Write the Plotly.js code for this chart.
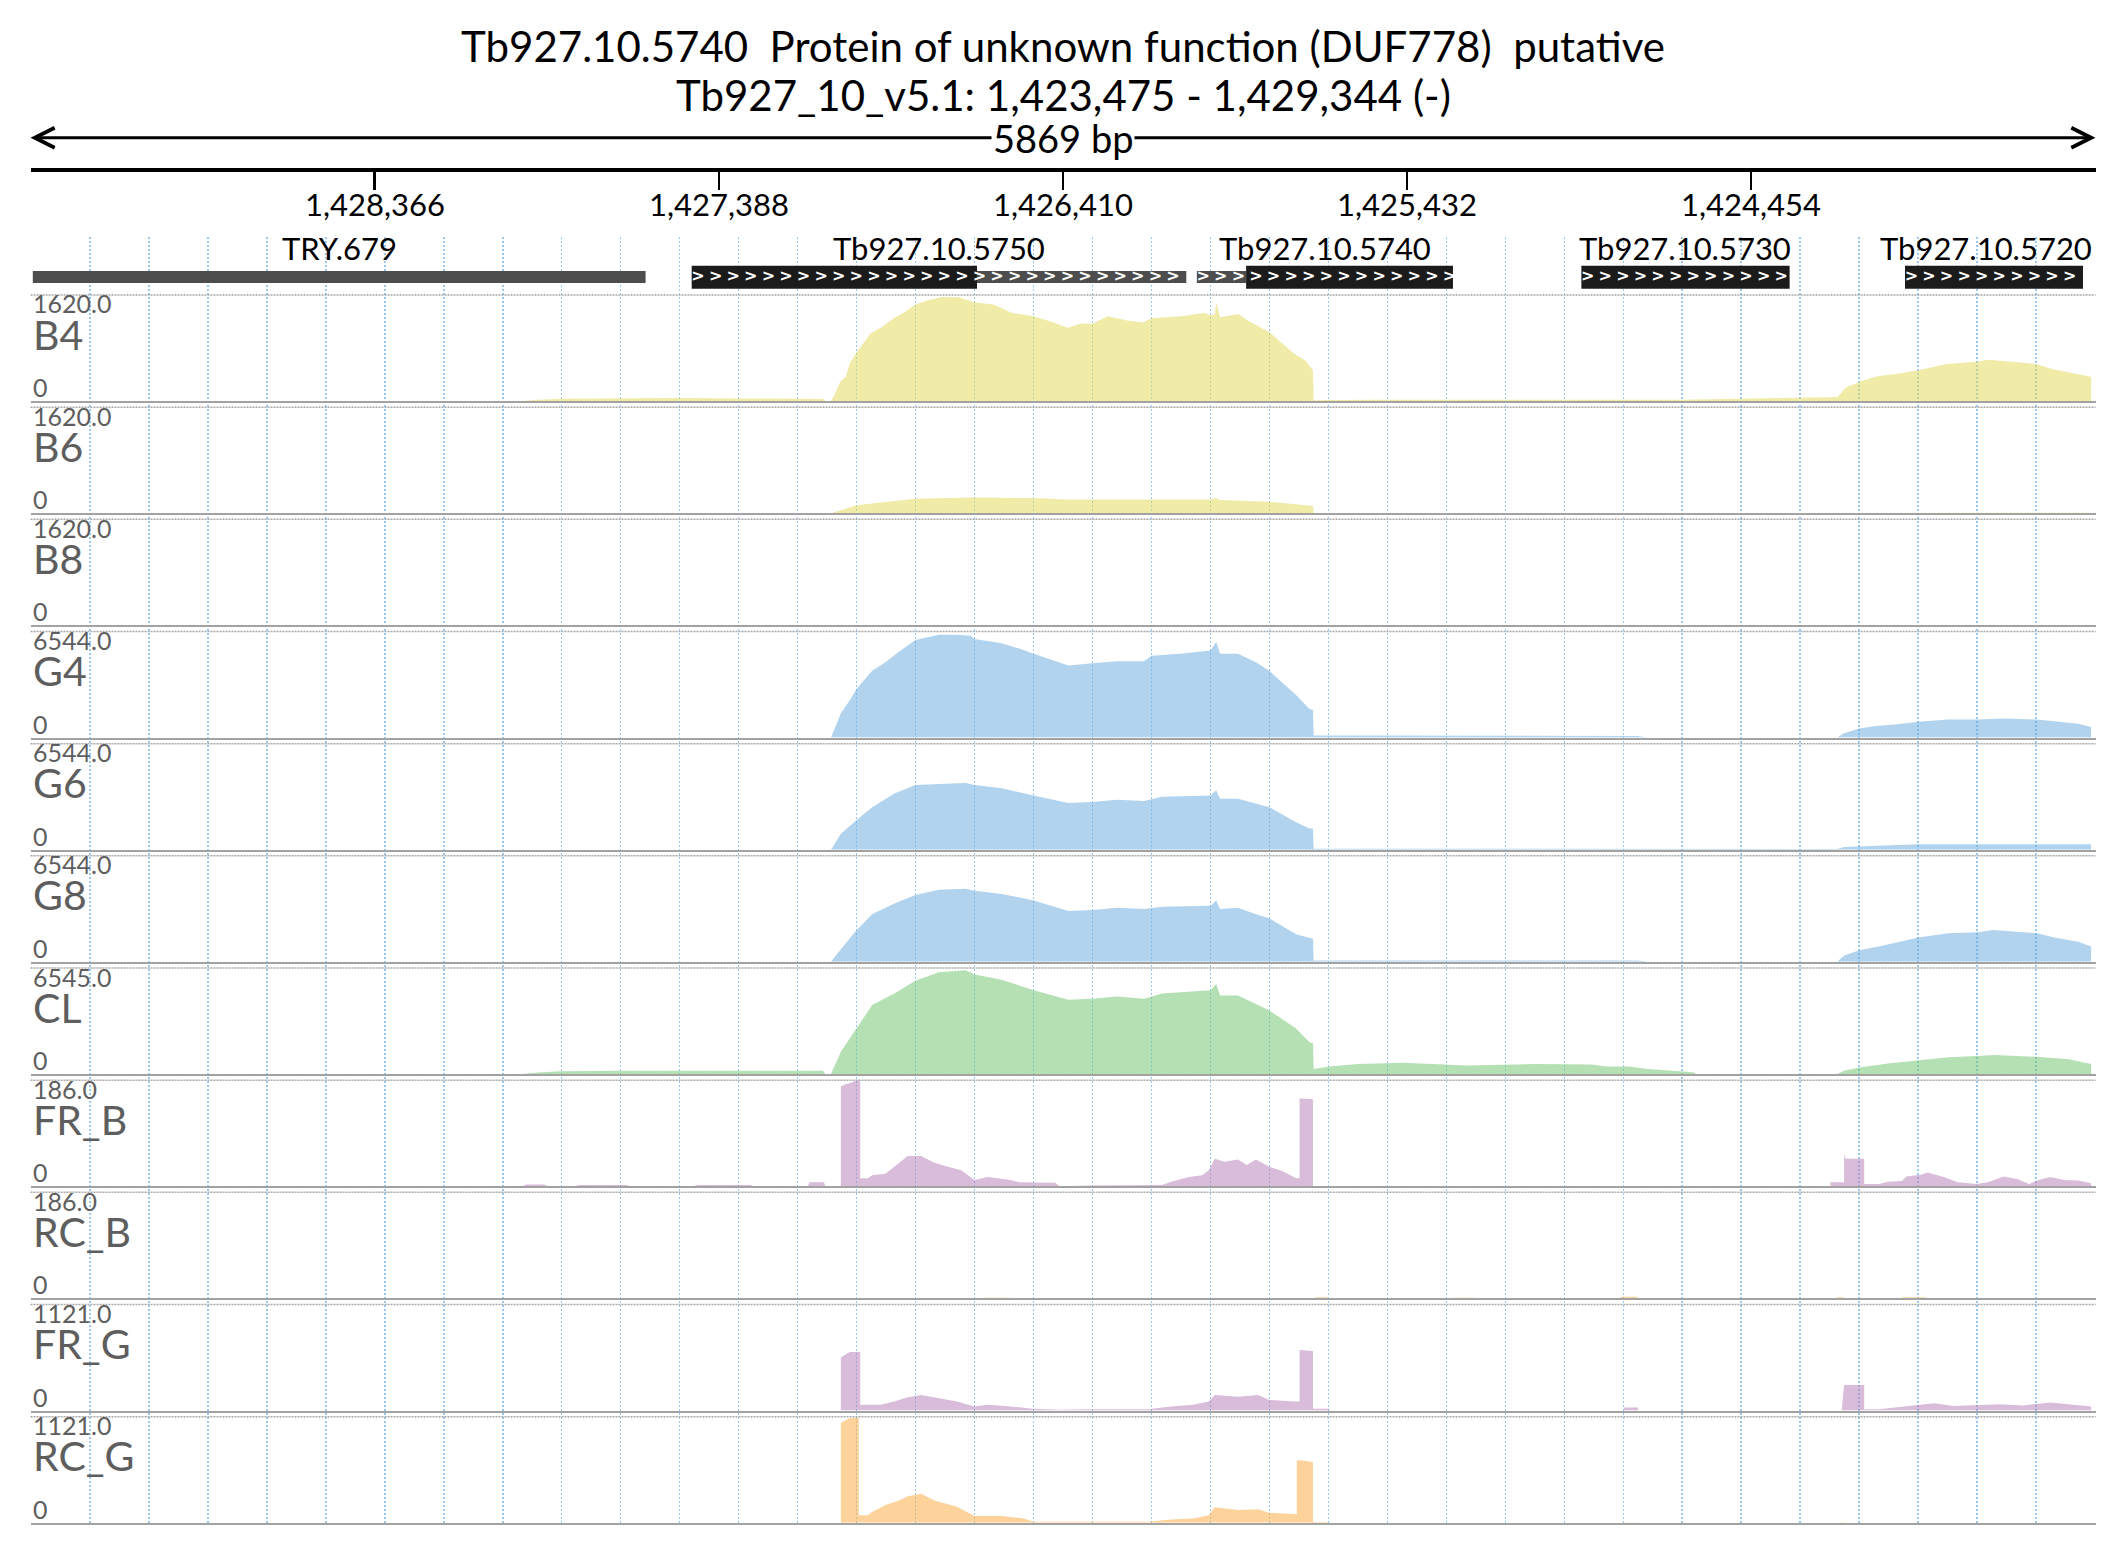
<!DOCTYPE html>
<html>
<head>
<meta charset="utf-8">
<script src="https://cdn.plot.ly/plotly-3.0.1.min.js"></script>
<style>html,body{margin:0;padding:0;background:#fff;}#chart{width:2126px;height:1561px;}</style>
</head>
<body>
<div id="chart"></div>
<script>
// ---------------- data ----------------
const winStart = 1429344;   // left edge (minus strand view)
const winEnd = 1423475;     // right edge
const titleLine1 = 'Tb927.10.5740  Protein of unknown function (DUF778)  putative';
const titleLine2 = 'Tb927_10_v5.1: 1,423,475 - 1,429,344 (-)';
const spanLabel = '5869 bp';

const rulerVals = [1428366, 1427388, 1426410, 1425432, 1424454];
const rulerText = ['1,428,366', '1,427,388', '1,426,410', '1,425,432', '1,424,454'];

const geneNames = ['TRY.679', 'Tb927.10.5750', 'Tb927.10.5740', 'Tb927.10.5730', 'Tb927.10.5720'];
const geneStart = [1429338, 1427465, 1426029, 1424936, 1424016];
const geneEnd   = [1427596, 1426059, 1425301, 1424344, 1423510];
const labelPos  = [1428467, 1426762, 1425665, 1424640, 1423786];
const cdsStart  = [1427465, 1425889, 1424936, 1424016];
const cdsEnd    = [1426654, 1425301, 1424344, 1423510];
const utrStart  = [1429338, 1426654, 1426029];
const utrEnd    = [1427596, 1426059, 1425889];

const trackNames = ['B4', 'B6', 'B8', 'G4', 'G6', 'G8', 'CL', 'FR_B', 'RC_B', 'FR_G', 'RC_G'];
const trackMax   = [1620, 1620, 1620, 6544, 6544, 6544, 6545, 186, 186, 1121, 1121];
const maxLabels  = ['1620.0', '1620.0', '1620.0', '6544.0', '6544.0', '6544.0', '6545.0', '186.0', '186.0', '1121.0', '1121.0'];

const b4Pos = [1427947,1427902,1427835,1427667,1427499,1427332,1427164,1427092,1427085,1427069,1427060,1427043,1427027,1427016,1426996,1426956,1426923,1426891,1426859,1426829,1426793,1426755,1426706,1426661,1426607,1426554,1426493,1426445,1426396,1426358,1426326,1426282,1426227,1426183,1426158,1426074,1426009,1425990,1425978,1425974,1425963,1425911,1425880,1425823,1425792,1425754,1425720,1425699,1425697,1425658,1425487,1425320,1424984,1424686,1424649,1424313,1424208,1424183,1424146,1424099,1424032,1423978,1423898,1423810,1423780,1423713,1423643,1423596,1423529,1423487];
const b4Val = [0,20,35,45,45,40,35,30,0,0,80,290,370,570,745,1035,1135,1265,1360,1475,1540,1590,1585,1505,1475,1345,1295,1215,1120,1185,1180,1295,1230,1200,1265,1295,1345,1310,1320,1505,1280,1330,1215,1055,905,730,615,470,10,15,20,20,12,12,20,50,60,210,290,375,420,470,565,600,630,600,565,485,420,370];

const b6Pos = [1427069,1427043,1427016,1426996,1426914,1426829,1426661,1426493,1426396,1426326,1426158,1425990,1425974,1425963,1425823,1425754,1425699,1425697,1424208,1424183,1423978,1423487];
const b6Val = [0,45,95,120,170,220,240,230,210,210,205,210,230,200,175,145,110,0,0,4,7,7];

const b8Pos = [1424208,1424183,1423487];
const b8Val = [0,5,6];

const g4Pos = [1427069,1427041,1427016,1426996,1426952,1426914,1426876,1426829,1426762,1426711,1426673,1426661,1426584,1426534,1426493,1426458,1426394,1426326,1426255,1426179,1426158,1426077,1425990,1425974,1425963,1425912,1425861,1425823,1425785,1425747,1425709,1425699,1425697,1425320,1424906,1424775,1424748,1424209,1424189,1424146,1424104,1424038,1423978,1423893,1423809,1423735,1423641,1423591,1423524,1423487];
const g4Val = [0,1505,2290,3010,4120,4645,5300,6020,6350,6350,6280,6085,5825,5495,5170,4910,4450,4580,4710,4710,5040,5170,5365,5890,5170,5170,4645,4120,3400,2620,1765,1700,130,130,120,90,0,0,260,555,700,820,980,1110,1110,1180,1110,980,850,655];

const g6Pos = [1427069,1427041,1426996,1426952,1426889,1426829,1426762,1426686,1426661,1426584,1426493,1426394,1426326,1426255,1426179,1426128,1425990,1425974,1425963,1425912,1425823,1425747,1425709,1425699,1425697,1425320,1424984,1424209,1424189,1423978,1423487];
const g6Val = [0,980,1830,2620,3470,3990,4060,4120,3990,3795,3340,2880,2945,3075,3010,3270,3340,3665,3140,3140,2620,1700,1310,1300,65,65,40,40,165,330,330];

const g8Pos = [1427069,1427041,1426996,1426952,1426889,1426829,1426762,1426686,1426661,1426584,1426493,1426394,1426326,1426255,1426179,1426128,1425990,1425974,1425963,1425912,1425861,1425823,1425747,1425709,1425699,1425697,1424775,1424748,1424209,1424189,1424146,1424090,1424025,1423978,1423893,1423809,1423768,1423641,1423591,1423524,1423487];
const g8Val = [0,785,1965,2945,3600,4120,4450,4515,4385,4190,3795,3140,3205,3340,3270,3400,3470,3795,3270,3340,2945,2685,1700,1440,1420,85,85,0,0,390,720,950,1245,1505,1765,1830,1965,1765,1505,1245,950];

const clPos = [1427947,1427902,1427835,1427667,1427332,1427164,1427092,1427085,1427069,1427041,1426996,1426952,1426889,1426829,1426762,1426686,1426661,1426584,1426493,1426394,1426326,1426255,1426179,1426128,1425990,1425974,1425963,1425912,1425861,1425823,1425747,1425709,1425699,1425697,1425652,1425571,1425443,1425320,1425262,1425065,1424906,1424867,1424801,1424748,1424617,1424610,1424209,1424189,1424146,1424064,1423978,1423893,1423809,1423762,1423641,1423551,1423487];
const clVal = [0,100,165,200,200,195,195,0,0,1375,2815,4255,4975,5760,6285,6415,6150,5825,5170,4580,4645,4780,4645,4975,5170,5565,4845,4845,4320,3925,2815,1965,1900,310,460,615,700,590,525,615,590,460,460,310,105,0,0,195,410,655,850,1030,1110,1180,1065,905,615];

const frbPos = [1427947,1427935,1427885,1427873,1427800,1427785,1427650,1427640,1427460,1427449,1427298,1427290,1427135,1427130,1427089,1427085,1427041,1427041,1427028,1427010,1426996,1426986,1426986,1426964,1426952,1426914,1426889,1426851,1426813,1426775,1426737,1426699,1426661,1426623,1426559,1426534,1426432,1426420,1426331,1426166,1426128,1426102,1426052,1426014,1425995,1425978,1425950,1425912,1425887,1425861,1425823,1425785,1425747,1425737,1425737,1425703,1425699,1425699,1424228,1424228,1424189,1424189,1424185,1424132,1424132,1424090,1424064,1424025,1424012,1423971,1423952,1423906,1423866,1423814,1423780,1423735,1423695,1423663,1423636,1423603,1423564,1423524,1423487];
const frbVal = [0,3,3,0,0,2,2,0,0,2,2,0,0,7,7,0,0,175,179,182,186,186,14,14,19,22,34,53,53,41,34,28,11,16,11,7,6,0,1,1,2,8,16,19,28,48,43,47,37,47,34,26,14,14,154,153,152,0,0,7,7,56,48,48,4,4,8,9,17,20,24,16,7,4,7,17,12,4,11,16,11,10,5];

const rcbPos = [1426640,1426630,1426560,1426550,1425699,1425690,1425660,1425650,1425310,1425300,1425240,1425230,1424830,1424820,1424780,1424770,1424215,1424205,1424195,1424185,1424030,1424020,1423960,1423950];
const rcbVal = [0,1,1,0,0,2,2,0,0,1,1,0,0,3,3,0,0,2,2,0,0,2,2,0];

const frgPos = [1427041,1427041,1427016,1426986,1426986,1426928,1426889,1426851,1426813,1426762,1426711,1426661,1426623,1426559,1426496,1426420,1426331,1426166,1426102,1426039,1425995,1425978,1425912,1425855,1425823,1425747,1425737,1425737,1425699,1425699,1425652,1425652,1424815,1424815,1424775,1424775,1424196,1424189,1424132,1424132,1424090,1424038,1423971,1423933,1423879,1423748,1423682,1423603,1423537,1423487];
const frgVal = [0,560,620,620,60,60,95,140,165,130,95,43,60,43,18,7,13,13,43,60,95,165,145,165,112,95,95,640,630,18,18,0,0,31,31,0,0,270,270,13,13,34,67,78,49,67,53,84,60,43];

const rcgPos = [1427041,1427041,1427016,1426999,1426990,1426990,1426964,1426952,1426914,1426876,1426851,1426813,1426775,1426711,1426661,1426584,1426521,1426493,1426166,1426102,1426039,1425995,1425978,1425912,1425855,1425823,1425750,1425745,1425745,1425722,1425699,1425699,1425658,1425658,1424830,1424820,1424780,1424770,1424215,1424205,1424190,1424180];
const rcgVal = [0,1055,1105,1110,1110,80,80,112,187,235,280,305,235,168,70,70,45,11,11,34,45,80,163,135,141,105,90,90,660,655,640,7,7,0,0,3,3,0,0,5,5,0];

const trackPos = [b4Pos, b6Pos, b8Pos, g4Pos, g6Pos, g8Pos, clPos, frbPos, rcbPos, frgPos, rcgPos];
const trackVal = [b4Val, b6Val, b8Val, g4Val, g6Val, g8Val, clVal, frbVal, rcbVal, frgVal, rcgVal];

// ---------------- styling / layout ----------------
const W = 2126, H = 1561;
const FONT = 'Lato, "Open Sans", sans-serif';
const xL = 30.5, xR = 2095.5;
const xDom = [xL / W, xR / W];
const xRange = [winStart + 0.5, winEnd - 0.5];
const py = px => 1 - px / H;
const trackColors = ['rgba(225,215,80,0.5)', 'rgba(225,215,80,0.5)', 'rgba(225,215,80,0.5)',
  'rgba(100,168,222,0.5)', 'rgba(100,168,222,0.5)', 'rgba(100,168,222,0.5)',
  'rgba(105,193,105,0.5)',
  'rgba(177,121,181,0.5)', 'rgba(251,165,55,0.5)', 'rgba(177,121,181,0.5)', 'rgba(251,165,55,0.5)'];
const trackTop0 = 295, trackStep = 112.17, trackH = 106;

const traces = [];
const layout = {
  width: W, height: H, autosize: false,
  margin: {l: 0, r: 0, t: 0, b: 0, pad: 0},
  paper_bgcolor: '#ffffff', plot_bgcolor: 'rgba(0,0,0,0)',
  showlegend: false, barmode: 'overlay',
  font: {family: FONT, color: '#000'},
  title: {text: titleLine1, font: {family: FONT, size: 42, color: '#000'},
          x: 0.5, xanchor: 'center', xref: 'container', y: py(47), yanchor: 'middle', yref: 'container'},
  annotations: [], shapes: []
};

const baseX = {domain: xDom, range: xRange, showgrid: false, zeroline: false,
               showticklabels: false, ticks: '', fixedrange: true};

// grid subplot (background dotted vertical lines)
layout.xaxis = Object.assign({}, baseX, {anchor: 'y', showgrid: true, gridcolor: '#98c8f0', gridwidth: 1.8,
  griddash: '2px,2px', tickmode: 'linear', tick0: winEnd, dtick: (winStart - winEnd) / 35, showline: false});
layout.yaxis = {domain: [py(1522.7), py(237)], range: [0, 1], visible: false, fixedrange: true};
traces.push({type: 'scatter', x: [], y: [], xaxis: 'x', yaxis: 'y', hoverinfo: 'skip'});

// gene subplot
layout.xaxis2 = Object.assign({}, baseX, {anchor: 'y2', visible: false});
layout.yaxis2 = {domain: [py(292), py(230)], range: [0, 1], visible: false, fixedrange: true};
traces.push({type: 'bar', orientation: 'h', xaxis: 'x2', yaxis: 'y2', hoverinfo: 'skip',
  y: utrStart.map(() => 0.242), base: utrStart, x: utrStart.map((s, i) => utrEnd[i] - s),
  width: utrStart.map(() => 0.19), marker: {color: '#4d4d4d', line: {width: 0}}});
traces.push({type: 'bar', orientation: 'h', xaxis: 'x2', yaxis: 'y2', hoverinfo: 'skip',
  y: cdsStart.map(() => 0.2385), base: cdsStart, x: cdsStart.map((s, i) => cdsEnd[i] - s),
  width: cdsStart.map(() => 0.371), marker: {color: '#1b1b1b', line: {width: 0}}});
// direction chevrons (decoration) along the transcribed genes
const chevX = [];
for (let g = 1; g < geneNames.length; g++) {
  for (let p = geneStart[g] - 18; p > geneEnd[g] + 8; p -= 50) chevX.push(p);
}
traces.push({type: 'scatter', mode: 'text', xaxis: 'x2', yaxis: 'y2', hoverinfo: 'skip',
  x: chevX, y: chevX.map(() => 0.25), text: chevX.map(() => '>'),
  textfont: {family: 'DejaVu Sans', size: 16, color: '#ffffff', weight: 'bold'}, textposition: 'middle center'});
geneNames.forEach((n, i) => {
  layout.annotations.push({xref: 'x2', yref: 'y2', x: labelPos[i], y: 0.71,
    text: n, showarrow: false, xanchor: 'center', yanchor: 'middle', font: {family: FONT, size: 31, color: '#000'}});
});

// ruler subplot
layout.xaxis3 = Object.assign({}, baseX, {anchor: 'y3', side: 'bottom', showline: true, linewidth: 4, linecolor: '#000',
  ticks: 'outside', ticklen: 18, tickwidth: 2.5, tickcolor: '#000', tickmode: 'array', tickvals: rulerVals,
  showticklabels: false});
layout.yaxis3 = {domain: [py(167.5), py(160)], range: [0, 1], visible: false, fixedrange: true};
traces.push({type: 'scatter', x: [], y: [], xaxis: 'x3', yaxis: 'y3', hoverinfo: 'skip'});
rulerVals.forEach((v, i) => {
  layout.annotations.push({xref: 'x3', yref: 'paper', x: v, y: py(204), text: rulerText[i], showarrow: false,
    xanchor: 'center', yanchor: 'middle', font: {family: FONT, size: 31, color: '#000'}});
});

// span arrow
const arrowY = py(137.7);
const midX = 0.5;
layout.annotations.push({xref: 'paper', yref: 'paper', x: xDom[0], y: arrowY, ax: (midX - xDom[0]) * W, ay: 0,
  text: spanLabel, showarrow: true, arrowhead: 5, arrowsize: 1.3, arrowwidth: 3, arrowcolor: '#000',
  standoff: 0, font: {family: FONT, size: 38, color: '#000'}});
layout.annotations.push({xref: 'paper', yref: 'paper', x: xDom[1], y: arrowY, ax: (midX - xDom[1]) * W, ay: 0,
  text: spanLabel, showarrow: true, arrowhead: 5, arrowsize: 1.3, arrowwidth: 3, arrowcolor: '#000',
  standoff: 0, font: {family: FONT, size: 38, color: 'rgba(0,0,0,0)'}});
layout.annotations.push({xref: 'paper', yref: 'paper', x: 0.5, y: py(95), text: titleLine2, showarrow: false,
  xanchor: 'center', yanchor: 'middle', font: {family: FONT, size: 42, color: '#000'}});

// coverage tracks
trackNames.forEach((name, i) => {
  const n = 4 + i;
  const top = trackTop0 + trackStep * i, base = top + trackH;
  layout['xaxis' + n] = Object.assign({}, baseX, {anchor: 'y' + n, showline: true, linecolor: '#a2a2a2', linewidth: 2});
  layout['yaxis' + n] = {domain: [py(base), py(top)], range: [0, trackMax[i]], visible: false, fixedrange: true};
  traces.push({type: 'scatter', mode: 'lines', x: trackPos[i], y: trackVal[i], xaxis: 'x' + n, yaxis: 'y' + n,
    fill: 'tozeroy', fillcolor: trackColors[i], line: {width: 0, color: trackColors[i]}, hoverinfo: 'skip'});
  layout.shapes.push({type: 'line', xref: 'paper', yref: 'paper', x0: xDom[0], x1: xDom[1], y0: py(top), y1: py(top),
    line: {color: '#a8a8a8', width: 1.5, dash: '2px,1px'}});
  layout.annotations.push({xref: 'paper', yref: 'paper', x: 31 / W, y: py(top + 8.5), text: maxLabels[i],
    showarrow: false, xanchor: 'left', yanchor: 'middle', font: {family: FONT, size: 25, color: '#5e5e5e'}});
  layout.annotations.push({xref: 'paper', yref: 'paper', x: 31 / W, y: py(top + 39), text: name,
    showarrow: false, xanchor: 'left', yanchor: 'middle', font: {family: FONT, size: 41, color: '#5e5e5e'}});
  layout.annotations.push({xref: 'paper', yref: 'paper', x: 31 / W, y: py(top + 92), text: '0',
    showarrow: false, xanchor: 'left', yanchor: 'middle', font: {family: FONT, size: 25, color: '#5e5e5e'}});
});

Plotly.newPlot('chart', traces, layout, {displayModeBar: false, staticPlot: true});
</script>
</body>
</html>
